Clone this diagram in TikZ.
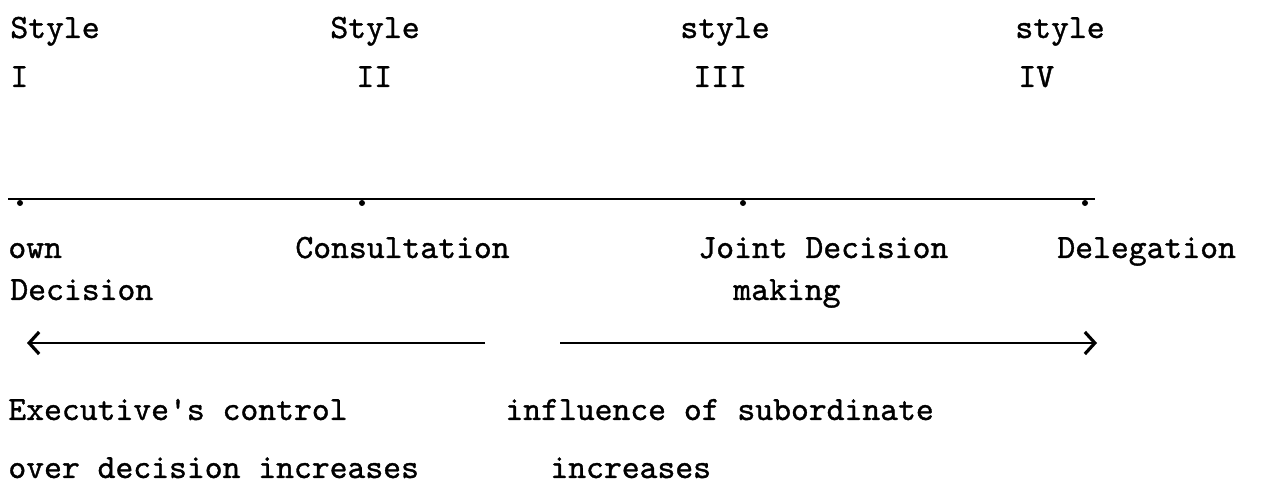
\documentclass[tikz,border=0pt]{standalone}
\usepackage{fontspec}
\newfontfamily\tw{lmmono10-regular.otf}[FakeBold=1.1]
\usetikzlibrary{arrows.meta}
\tikzset{
  lbl/.style={anchor=base west, inner sep=0pt, font=\tw\fontsize{17}{19}\selectfont},
  scale line/.style={line width=1.3pt},
  dir arrow/.style={line width=1.1pt, -{Straight Barb[length=5pt,width=11pt,line width=1.6pt]}},
  tick dot/.style={circle, fill=black, inner sep=0pt, minimum size=3pt}
}
\begin{document}
\begin{tikzpicture}[x=0.5pt,y=-0.5pt]
\useasboundingbox (0,0) rectangle (1263,501);
% headings
\node[lbl] (s1) at (10,38) {Style};
\node[lbl] (r1) at (10,87) {I};
\node[lbl] (s2) at (330,38) {Style};
\node[lbl] (r2) at (356,87) {II};
\node[lbl] (s3) at (680,38) {style};
\node[lbl] (r3) at (693,87) {III};
\node[lbl] (s4) at (1015,38) {style};
\node[lbl] (r4) at (1018,87) {IV};
% scale line
\coordinate (la) at (8,199);
\coordinate (lb) at (1095,199);
\draw[scale line] (la) -- (lb);
\node[tick dot] (d1) at (20,203) {};
\node[tick dot] (d2) at (362,203) {};
\node[tick dot] (d3) at (743,203) {};
\node[tick dot] (d4) at (1085,203) {};
% labels under line
\node[lbl] (own) at (8,258) {own};
\node[lbl] (dec) at (10,300) {Decision};
\node[lbl] (con) at (295,258) {Consultation};
\node[lbl] (joint) at (698,258) {Joint Decision};
\node[lbl] (mak) at (733,300) {making};
\node[lbl] (del) at (1057,258) {Delegation};
% arrows
\coordinate (a1s) at (485,343);
\coordinate (a1e) at (27,343);
\coordinate (a2s) at (560,343);
\coordinate (a2e) at (1097,343);
\draw[dir arrow] (a1s) -- (a1e);
\draw[dir arrow] (a2s) -- (a2e);
% bottom text
\node[lbl] (ex1) at (8,420) {Executive's control};
\node[lbl] (ex2) at (8,478) {over decision increases};
\node[lbl] (in1) at (505,420) {influence of subordinate};
\node[lbl] (in2) at (550,478) {increases};
\end{tikzpicture}
\end{document}
